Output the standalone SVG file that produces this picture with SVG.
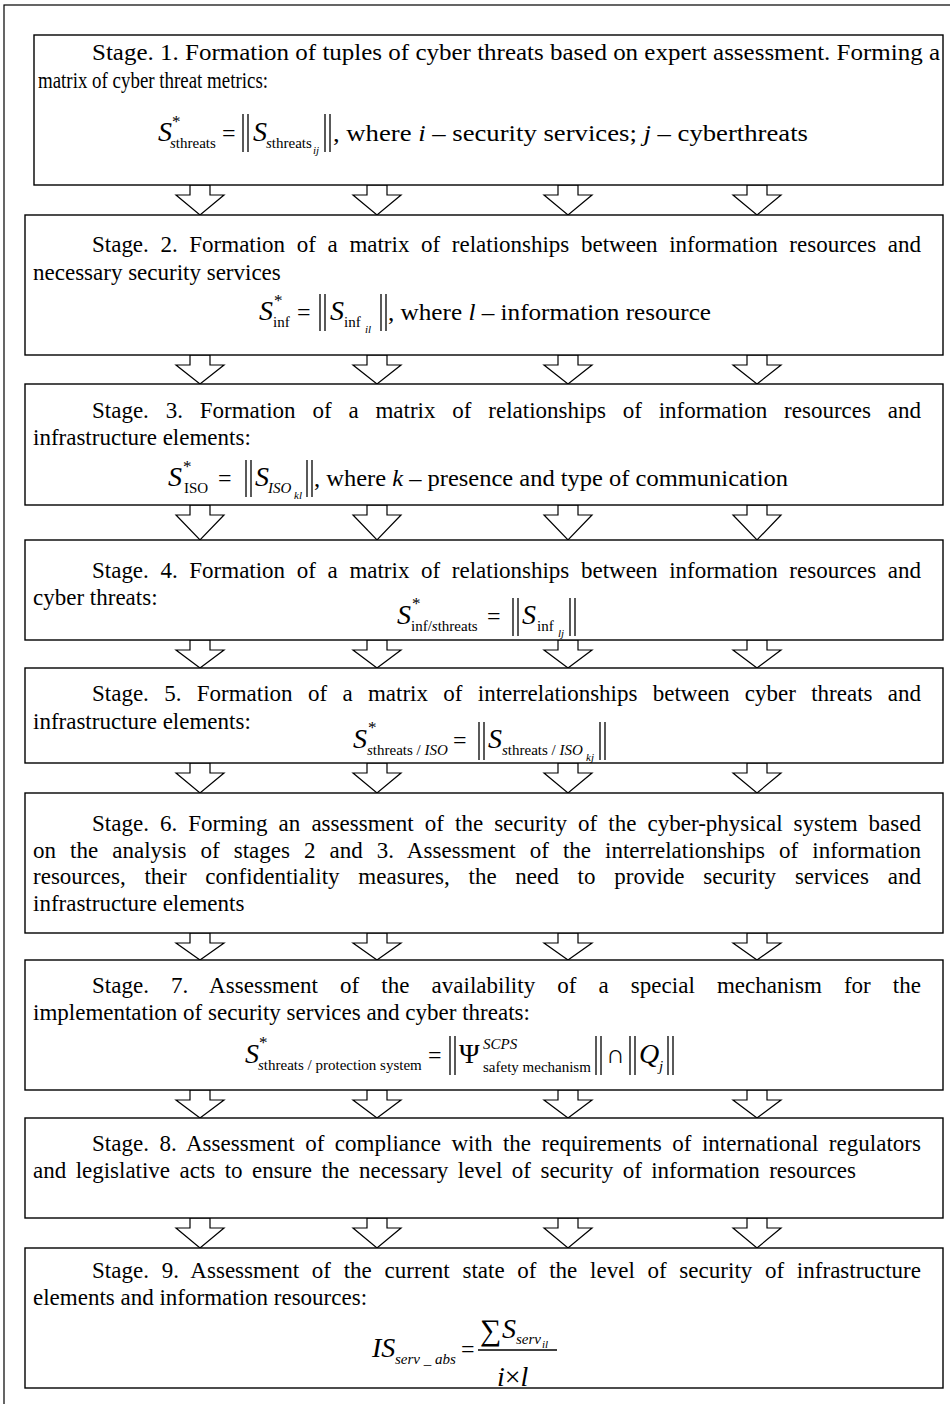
<svg xmlns="http://www.w3.org/2000/svg" xmlns:xlink="http://www.w3.org/1999/xlink" width="950" height="1404" viewBox="0 0 950 1404">
<style>
.bg{fill:#fff}
.frame{fill:none;stroke:#000;stroke-width:1.2}
.box{fill:#fff;stroke:#000;stroke-width:1.4}
.t{font-family:"Liberation Serif","Times New Roman",serif;font-size:23px;fill:#000}
.m{font-family:"Liberation Serif","Times New Roman",serif;font-size:28px;font-style:italic;fill:#000}
.u{font-family:"Liberation Serif","Times New Roman",serif;fill:#000}
.s{font-family:"Liberation Serif","Times New Roman",serif;font-size:15px;fill:#000}
.ss{font-family:"Liberation Serif","Times New Roman",serif;font-size:11px;font-style:italic;fill:#000}
.i{font-style:italic}
.bar{stroke:#000;stroke-width:1.3}
.arr{fill:#fff;stroke:#000;stroke-width:1.2;stroke-linejoin:miter}
</style>
<defs>
<path id="a27" d="M-10,0H10V10H24L0,27L-24,10H-10Z"/>
<path id="a28" d="M-10,0H10V10H24L0,28L-24,10H-10Z"/>
<path id="a29" d="M-10,0H10V10H24L0,29L-24,10H-10Z"/>
<path id="a30" d="M-10,0H10V10H24L0,30L-24,10H-10Z"/>
<path id="a35" d="M-10,0H10V10H24L0,35L-24,10H-10Z"/>
</defs>
<rect class="bg" x="0" y="0" width="950" height="1404"/>
<rect class="frame" x="4" y="5" width="970" height="1420"/>

<g id="connectors" class="arr">
<use xlink:href="#a30" x="200" y="185"/><use xlink:href="#a30" x="377" y="185"/><use xlink:href="#a30" x="568" y="185"/><use xlink:href="#a30" x="757" y="185"/>
<use xlink:href="#a29" x="200" y="355"/><use xlink:href="#a29" x="377" y="355"/><use xlink:href="#a29" x="568" y="355"/><use xlink:href="#a29" x="757" y="355"/>
<use xlink:href="#a35" x="200" y="505"/><use xlink:href="#a35" x="377" y="505"/><use xlink:href="#a35" x="568" y="505"/><use xlink:href="#a35" x="757" y="505"/>
<use xlink:href="#a28" x="200" y="640"/><use xlink:href="#a28" x="377" y="640"/><use xlink:href="#a28" x="568" y="640"/><use xlink:href="#a28" x="757" y="640"/>
<use xlink:href="#a30" x="200" y="763"/><use xlink:href="#a30" x="377" y="763"/><use xlink:href="#a30" x="568" y="763"/><use xlink:href="#a30" x="757" y="763"/>
<use xlink:href="#a27" x="200" y="933"/><use xlink:href="#a27" x="377" y="933"/><use xlink:href="#a27" x="568" y="933"/><use xlink:href="#a27" x="757" y="933"/>
<use xlink:href="#a28" x="200" y="1090"/><use xlink:href="#a28" x="377" y="1090"/><use xlink:href="#a28" x="568" y="1090"/><use xlink:href="#a28" x="757" y="1090"/>
<use xlink:href="#a30" x="200" y="1218"/><use xlink:href="#a30" x="377" y="1218"/><use xlink:href="#a30" x="568" y="1218"/><use xlink:href="#a30" x="757" y="1218"/>
</g>

<g id="stage1">
<rect class="box" x="34" y="35" width="909" height="150"/>
<text class="t" x="92" y="60" textLength="848" lengthAdjust="spacingAndGlyphs">Stage. 1. Formation of tuples of cyber threats based on expert assessment. Forming a</text>
<text class="t" x="38" y="88" textLength="230" lengthAdjust="spacingAndGlyphs">matrix of cyber threat metrics:</text>
<text class="m" x="158" y="141">S</text>
<text class="u" x="172" y="127" font-size="17">*</text>
<text class="s" x="170" y="148"><tspan class="i">s</tspan>threats</text>
<text class="u" x="222" y="141" font-size="24">=</text>
<line class="bar" x1="243" y1="114" x2="243" y2="152"/><line class="bar" x1="248" y1="114" x2="248" y2="152"/>
<text class="m" x="253" y="141">S</text>
<text class="s" x="266" y="148"><tspan class="i">s</tspan>threats</text>
<text class="ss" x="313" y="154">ij</text>
<line class="bar" x1="325" y1="114" x2="325" y2="152"/><line class="bar" x1="330" y1="114" x2="330" y2="152"/>
<text class="t" x="333" y="141" textLength="475" lengthAdjust="spacingAndGlyphs">, where <tspan class="i">i</tspan>  – security services; <tspan class="i">j</tspan>  – cyberthreats</text>
</g>

<g id="stage2">
<rect class="box" x="25" y="215" width="918" height="140"/>
<text class="t" x="92" y="252" word-spacing="5.9" textLength="829">Stage. 2. Formation of a matrix of relationships between information resources and</text>
<text class="t" x="33" y="280">necessary security services</text>
<text class="m" x="259" y="320">S</text>
<text class="u" x="274" y="306" font-size="17">*</text>
<text class="s" x="273" y="327">inf</text>
<text class="u" x="297" y="320" font-size="24">=</text>
<line class="bar" x1="320" y1="294" x2="320" y2="331"/><line class="bar" x1="325" y1="294" x2="325" y2="331"/>
<text class="m" x="330" y="320">S</text>
<text class="s" x="344" y="327">inf</text>
<text class="ss" x="365" y="333">il</text>
<line class="bar" x1="381" y1="294" x2="381" y2="331"/><line class="bar" x1="386" y1="294" x2="386" y2="331"/>
<text class="t" x="388" y="320" textLength="323" lengthAdjust="spacingAndGlyphs">, where <tspan class="i">l</tspan>  – information resource</text>
</g>

<g id="stage3">
<rect class="box" x="25" y="384" width="918" height="121"/>
<text class="t" x="92" y="418" word-spacing="11.07" textLength="829">Stage. 3. Formation of a matrix of relationships of information resources and</text>
<text class="t" x="33" y="445">infrastructure elements:</text>
<text class="m" x="168" y="486">S</text>
<text class="u" x="183" y="472" font-size="17">*</text>
<text class="s" x="184" y="493">ISO</text>
<text class="u" x="218" y="486" font-size="24">=</text>
<line class="bar" x1="246" y1="460" x2="246" y2="497"/><line class="bar" x1="251" y1="460" x2="251" y2="497"/>
<text class="m" x="255" y="486">S</text>
<text class="s i" x="268" y="493">ISO</text>
<text class="ss" x="294" y="499">kl</text>
<line class="bar" x1="307" y1="460" x2="307" y2="497"/><line class="bar" x1="312" y1="460" x2="312" y2="497"/>
<text class="t" x="314" y="486" textLength="474" lengthAdjust="spacingAndGlyphs">, where <tspan class="i">k</tspan> – presence and type of communication</text>
</g>

<g id="stage4">
<rect class="box" x="25" y="540" width="918" height="100"/>
<text class="t" x="92" y="578" word-spacing="5.9" textLength="829">Stage. 4. Formation of a matrix of relationships between information resources and</text>
<text class="t" x="33" y="605">cyber threats:</text>
<text class="m" x="397" y="624">S</text>
<text class="u" x="412" y="609" font-size="17">*</text>
<text class="s" x="411" y="631">inf/<tspan class="i">s</tspan>threats</text>
<text class="u" x="487" y="624" font-size="24">=</text>
<line class="bar" x1="513" y1="598" x2="513" y2="636"/><line class="bar" x1="518" y1="598" x2="518" y2="636"/>
<text class="m" x="522" y="624">S</text>
<text class="s" x="537" y="631">inf</text>
<text class="ss" x="558" y="637">lj</text>
<line class="bar" x1="570" y1="598" x2="570" y2="636"/><line class="bar" x1="575" y1="598" x2="575" y2="636"/>
</g>

<g id="stage5">
<rect class="box" x="25" y="668" width="918" height="95"/>
<text class="t" x="92" y="701" word-spacing="9.57" textLength="829">Stage. 5. Formation of a matrix of interrelationships between cyber threats and</text>
<text class="t" x="33" y="729">infrastructure elements:</text>
<text class="m" x="353" y="748">S</text>
<text class="u" x="368" y="733" font-size="17">*</text>
<text class="s" x="367" y="755"><tspan class="i">s</tspan>threats / <tspan class="i">ISO</tspan></text>
<text class="u" x="453" y="748" font-size="24">=</text>
<line class="bar" x1="479" y1="722" x2="479" y2="760"/><line class="bar" x1="484" y1="722" x2="484" y2="760"/>
<text class="m" x="488" y="748">S</text>
<text class="s" x="502" y="755"><tspan class="i">s</tspan>threats / <tspan class="i">ISO</tspan></text>
<text class="ss" x="586" y="761">kj</text>
<line class="bar" x1="600" y1="722" x2="600" y2="760"/><line class="bar" x1="605" y1="722" x2="605" y2="760"/>
</g>

<g id="stage6">
<rect class="box" x="25" y="793" width="918" height="140"/>
<text class="t" x="92" y="831" word-spacing="5.3" textLength="829">Stage. 6. Forming an assessment of the security of the cyber-physical system based</text>
<text class="t" x="33" y="858" word-spacing="8.26" textLength="888">on the analysis of stages 2 and 3. Assessment of the interrelationships of information</text>
<text class="t" x="33" y="884" word-spacing="13" textLength="888">resources, their confidentiality measures, the need to provide security services and</text>
<text class="t" x="33" y="911">infrastructure elements</text>
</g>

<g id="stage7">
<rect class="box" x="25" y="960" width="918" height="130"/>
<text class="t" x="92" y="993" word-spacing="16.3" textLength="829">Stage. 7. Assessment of the availability of a special mechanism for the</text>
<text class="t" x="33" y="1020">implementation of security services and cyber threats:</text>
<text class="m" x="245" y="1063">S</text>
<text class="u" x="259" y="1048" font-size="17">*</text>
<text class="s" x="258" y="1070"><tspan class="i">s</tspan>threats / protection system</text>
<text class="u" x="428" y="1063" font-size="24">=</text>
<line class="bar" x1="450" y1="1036" x2="450" y2="1075"/><line class="bar" x1="455" y1="1036" x2="455" y2="1075"/>
<text class="u" x="459" y="1063" font-size="28">Ψ</text>
<text class="s i" x="483" y="1049">SCPS</text>
<text class="s" x="483" y="1072">safety mechanism</text>
<line class="bar" x1="596" y1="1036" x2="596" y2="1075"/><line class="bar" x1="601" y1="1036" x2="601" y2="1075"/>
<text class="u" x="606" y="1063" font-size="26">∩</text>
<line class="bar" x1="630" y1="1036" x2="630" y2="1075"/><line class="bar" x1="635" y1="1036" x2="635" y2="1075"/>
<text class="m" x="639" y="1063">Q</text>
<text class="s i" x="659" y="1071">j</text>
<line class="bar" x1="668" y1="1036" x2="668" y2="1075"/><line class="bar" x1="673" y1="1036" x2="673" y2="1075"/>
</g>

<g id="stage8">
<rect class="box" x="25" y="1118" width="918" height="100"/>
<text class="t" x="92" y="1151" word-spacing="4.7" textLength="829">Stage. 8. Assessment of compliance with the requirements of international regulators</text>
<text class="t" x="33" y="1178" word-spacing="3.7" textLength="823">and legislative acts to ensure the necessary level of security of information resources</text>
</g>

<g id="stage9">
<rect class="box" x="25" y="1248" width="918" height="140"/>
<text class="t" x="92" y="1278" word-spacing="6.9" textLength="829">Stage. 9. Assessment of the current state of the level of security of infrastructure</text>
<text class="t" x="33" y="1305">elements and information resources:</text>
<text class="m" x="372" y="1357">IS</text>
<text class="s i" x="395" y="1364">serv _ abs</text>
<text class="u" x="461" y="1357" font-size="24">=</text>
<text class="u" x="480" y="1340" font-size="30">∑</text>
<text class="m" x="502" y="1338">S</text>
<text class="s i" x="516" y="1344">serv</text>
<text class="ss" x="542" y="1348">il</text>
<line class="bar" x1="478" y1="1350" x2="557" y2="1350"/>
<text class="m" x="497" y="1386">i<tspan font-style="normal">×</tspan>l</text>
</g>
</svg>
